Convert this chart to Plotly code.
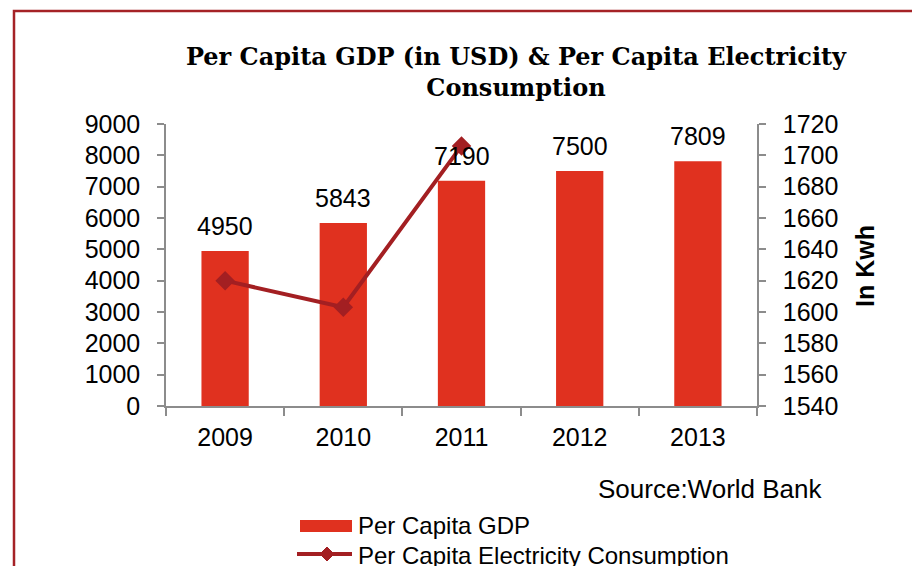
import plotly.graph_objects as go

years = ["2009", "2010", "2011", "2012", "2013"]
gdp_per_capita = [4950, 5843, 7190, 7500, 7809]
elec_years = ["2009", "2010", "2011"]
elec_per_capita = [1620, 1603, 1706]

left_ticks = list(range(0, 9001, 1000))
right_ticks = list(range(1540, 1721, 20))

BAR_RED = "#E0311F"
LINE_RED = "#A31F22"
AXIS_GREY = "#8C8C8C"
FONT = "Liberation Sans, Arial, sans-serif"

# plot area in pixels, used to place the free-standing legend and notes
L, R, T, B = 166, 757, 124, 406


def px_x(p):
    return (p - L) / (R - L)


def px_y(p):
    return (B - p) / (B - T)


fig = go.Figure()

fig.add_trace(go.Bar(
    x=years, y=gdp_per_capita, name="Per Capita GDP",
    marker=dict(color=BAR_RED, line=dict(width=0)),
    yaxis="y", showlegend=False,
))

fig.add_trace(go.Scatter(
    x=elec_years, y=elec_per_capita, name="Per Capita Electricity Consumption",
    mode="lines+markers",
    line=dict(color=LINE_RED, width=4),
    marker=dict(symbol="diamond", size=15, color=LINE_RED),
    yaxis="y2", showlegend=False,
))

# value labels above the bars (category index positions)
for i, v in enumerate(gdp_per_capita):
    fig.add_annotation(
        x=i, y=v, xref="x", yref="y", text=str(v), showarrow=False,
        yanchor="bottom", yshift=9, font=dict(size=25, color="black", family=FONT),
    )

fig.add_annotation(
    x=px_x(865), y=px_y(266), xref="paper", yref="paper", text="<b>In Kwh</b>",
    xanchor="center", yanchor="middle",
    textangle=-90, showarrow=False, font=dict(size=25, color="black", family=FONT),
)

fig.add_annotation(
    x=px_x(596), y=px_y(489), xref="paper", yref="paper", text="Source:World Bank",
    xanchor="left", yanchor="middle", showarrow=False,
    font=dict(size=26, color="black", family=FONT),
)

# legend: swatch, line with diamond, and labels
fig.add_shape(type="rect", xref="paper", yref="paper",
              x0=px_x(300), x1=px_x(352), y0=px_y(532), y1=px_y(520),
              fillcolor=BAR_RED, line=dict(width=0))
fig.add_shape(type="line", xref="paper", yref="paper",
              x0=px_x(297), x1=px_x(352), y0=px_y(554), y1=px_y(554),
              line=dict(color=LINE_RED, width=4))
dx, dy = 7, 7
cx, cy = 327, 554
diamond = "M {} {} L {} {} L {} {} L {} {} Z".format(
    px_x(cx - dx), px_y(cy), px_x(cx), px_y(cy - dy),
    px_x(cx + dx), px_y(cy), px_x(cx), px_y(cy + dy))
fig.add_shape(type="path", xref="paper", yref="paper", path=diamond,
              fillcolor=LINE_RED, line=dict(color=LINE_RED, width=1))
fig.add_annotation(x=px_x(356), y=px_y(525), xref="paper", yref="paper",
                   text="Per Capita GDP", xanchor="left", yanchor="middle",
                   showarrow=False, font=dict(size=24, color="black", family=FONT))
fig.add_annotation(x=px_x(356), y=px_y(555), xref="paper", yref="paper",
                   text="Per Capita Electricity Consumption", xanchor="left",
                   yanchor="middle", showarrow=False,
                   font=dict(size=24, color="black", family=FONT))

# frame around the chart area
fig.add_shape(
    type="rect", xref="paper", yref="paper",
    x0=px_x(14), x1=px_x(960), y0=px_y(620), y1=px_y(11),
    line=dict(color="#A52226", width=2.5), fillcolor="rgba(0,0,0,0)",
    layer="below",
)

fig.update_layout(
    width=912, height=566,
    margin=dict(l=L, r=912 - R, t=T, b=566 - B),
    paper_bgcolor="white", plot_bgcolor="white",
    font=dict(family=FONT, size=25, color="black"),
    title=dict(
        text="<b>Per Capita GDP (in USD) & Per Capita Electricity<br>Consumption</b>",
        x=516 / 912, xanchor="center", xref="container",
        y=1 - 65 / 566, yanchor="top", yref="container",
        font=dict(family="DejaVu Serif, serif", size=24, color="black"),
    ),
    bargap=0.6,
    showlegend=False,
    xaxis=dict(
        type="category", categoryorder="array", categoryarray=years,
        showline=True, linecolor=AXIS_GREY, linewidth=1.5,
        ticks="outside", tickson="boundaries", ticklen=8, tickcolor=AXIS_GREY,
        tickwidth=1.5, ticklabelstandoff=8,
        showgrid=False, zeroline=False,
        tickfont=dict(size=25),
    ),
    yaxis=dict(
        range=[0, 9000], tickvals=left_ticks,
        showline=True, linecolor=AXIS_GREY, linewidth=1.5,
        ticks="outside", ticklen=7, tickcolor=AXIS_GREY, tickwidth=1.5,
        ticklabelstandoff=12,
        showgrid=False, zeroline=False, tickfont=dict(size=25),
    ),
    yaxis2=dict(
        range=[1540, 1720], tickvals=right_ticks,
        overlaying="y", side="right",
        showline=True, linecolor=AXIS_GREY, linewidth=1.5,
        ticks="outside", ticklen=7, tickcolor=AXIS_GREY, tickwidth=1.5,
        ticklabelstandoff=12,
        showgrid=False, zeroline=False, tickfont=dict(size=25),
    ),
)

fig.write_html("out.html")
